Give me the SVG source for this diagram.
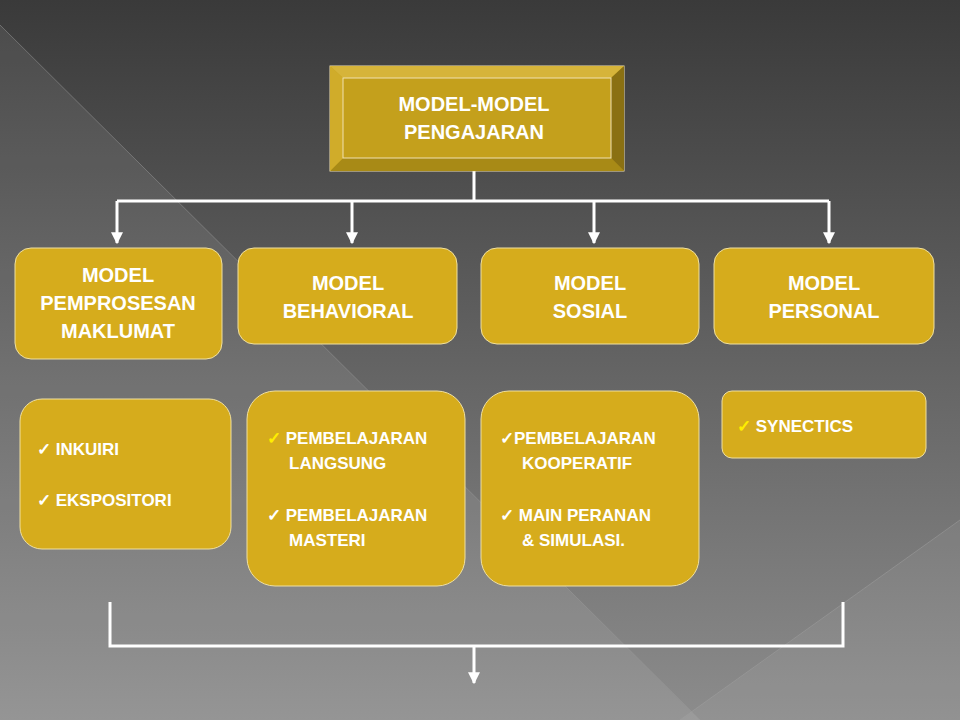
<svg xmlns="http://www.w3.org/2000/svg" width="960" height="720" viewBox="0 0 960 720">
<defs>
<linearGradient id="bg" x1="0" y1="0" x2="0" y2="1">
<stop offset="0" stop-color="#3a3a3a"/><stop offset="1" stop-color="#8c8c8c"/>
</linearGradient>
<marker id="ar" viewBox="0 0 10 10" refX="9" refY="5" markerWidth="4" markerHeight="4" orient="auto"><path d="M0,0 L10,5 L0,10 z" fill="#fff"/></marker>
<style>
.t{font-family:"Liberation Sans",Arial,sans-serif;font-weight:bold;fill:#fff;}
.c{font-size:20px;text-anchor:middle;}
.s{font-size:17px;}
.b{fill:#d6ac1c;stroke:#f0e0a0;stroke-width:1;}
.l{stroke:#fff;stroke-width:3;fill:none;}
</style>
</defs>
<rect width="960" height="720" fill="url(#bg)"/>
<polygon points="0,25 700,720 0,720" fill="#fff" opacity="0.08"/>
<polygon points="680,720 960,520 960,720" fill="#fff" opacity="0.06"/>
<line x1="0" y1="25" x2="700" y2="720" stroke="#9a9a9a" stroke-width="1" opacity="0.5"/>
<line x1="680" y1="720" x2="960" y2="520" stroke="#a0a0a0" stroke-width="1" opacity="0.5"/>
<g id="connectors">
<path class="l" d="M474,171 V201 M117,201 H829"/>
<path class="l" d="M117,201 V243" marker-end="url(#ar)"/>
<path class="l" d="M352,201 V243" marker-end="url(#ar)"/>
<path class="l" d="M594,201 V243" marker-end="url(#ar)"/>
<path class="l" d="M829,201 V243" marker-end="url(#ar)"/>
<path class="l" d="M110,602 V646 H843 V602"/>
<path class="l" d="M474,646 V683" marker-end="url(#ar)"/>
</g>
<g id="root">
<rect x="330" y="66" width="294" height="105" fill="#c4a01c" stroke="#f0e0b0"/>
<polygon points="330,66 624,66 611,78 343,78" fill="#d6b43a"/>
<polygon points="330,171 624,171 611,158 343,158" fill="#a88a16"/>
<polygon points="330,66 343,78 343,158 330,171" fill="#d0ac2a"/>
<polygon points="624,66 611,78 611,158 624,171" fill="#8a7012"/>
<rect x="343" y="78" width="268" height="80" fill="#c4a01c" stroke="#f0e0b0"/>
<text class="t c" x="474" y="111">MODEL-MODEL</text>
<text class="t c" x="474" y="139">PENGAJARAN</text>
</g>
<g id="n1"><rect class="b" x="15" y="248" width="207" height="111" rx="16"/>
<text class="t c" x="118" y="282">MODEL</text><text class="t c" x="118" y="310">PEMPROSESAN</text><text class="t c" x="118" y="338">MAKLUMAT</text></g>
<g id="n2"><rect class="b" x="238" y="248" width="219" height="96" rx="16"/>
<text class="t c" x="348" y="290">MODEL</text><text class="t c" x="348" y="318">BEHAVIORAL</text></g>
<g id="n3"><rect class="b" x="481" y="248" width="218" height="96" rx="16"/>
<text class="t c" x="590" y="290">MODEL</text><text class="t c" x="590" y="318">SOSIAL</text></g>
<g id="n4"><rect class="b" x="714" y="248" width="220" height="96" rx="16"/>
<text class="t c" x="824" y="290">MODEL</text><text class="t c" x="824" y="318">PERSONAL</text></g>
<g id="d1"><rect class="b" x="20" y="399" width="211" height="150" rx="22"/>
<text class="t s" x="37" y="455">✓   INKUIRI</text><text class="t s" x="37" y="506">✓   EKSPOSITORI</text></g>
<g id="d2"><rect class="b" x="247" y="391" width="218" height="195" rx="28"/>
<text class="t s" x="267" y="444"><tspan fill="#ffee00">✓</tspan> PEMBELAJARAN</text><text class="t s" x="289" y="469">LANGSUNG</text>
<text class="t s" x="267" y="521">✓ PEMBELAJARAN</text><text class="t s" x="289" y="546">MASTERI</text></g>
<g id="d3"><rect class="b" x="481" y="391" width="218" height="195" rx="28"/>
<text class="t s" x="500" y="444">✓PEMBELAJARAN</text><text class="t s" x="522" y="469">KOOPERATIF</text>
<text class="t s" x="500" y="521">✓ MAIN PERANAN</text><text class="t s" x="522" y="546">&amp; SIMULASI.</text></g>
<g id="d4"><rect class="b" x="722" y="391" width="204" height="67" rx="10"/>
<text class="t s" x="737" y="432"><tspan fill="#ffee00">✓</tspan>  SYNECTICS</text></g>
</svg>
